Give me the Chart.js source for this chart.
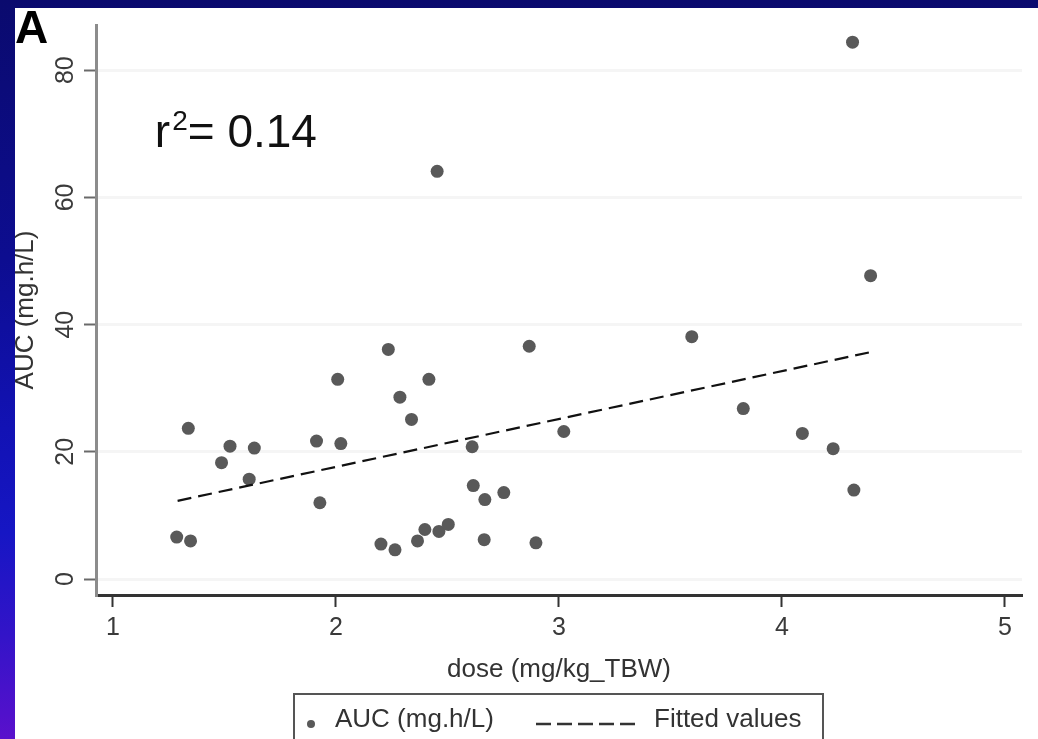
<!DOCTYPE html>
<html>
<head>
<meta charset="utf-8">
<title>AUC vs dose</title>
<script src="https://cdn.jsdelivr.net/npm/chart.js@4.4.1/dist/chart.umd.min.js"></script>
<style>
  html, body {
    margin: 0;
    padding: 0;
    width: 1038px;
    height: 739px;
    overflow: hidden;
    background: linear-gradient(to bottom, #0a0a6e 0%, #0d0d90 35%, #1212b4 58%, #1616c4 72%, #3314c8 86%, #5a10cc 100%);
  }
  canvas { display: block; }
</style>
</head>
<body>
<canvas id="doseChart" width="1038" height="739"></canvas>
<script>
  // Observed dose (mg/kg TBW) and AUC (mg.h/L) pairs
  const doseValues = [1.286, 1.348, 1.338, 1.487, 1.525, 1.611, 1.634, 1.913, 1.928, 2.008,
                      2.022, 2.202, 2.235, 2.265, 2.287, 2.339, 2.366, 2.399, 2.417, 2.454,
                      2.462, 2.504, 2.611, 2.616, 2.665, 2.668, 2.753, 2.867, 2.897, 3.022,
                      3.596, 3.827, 4.092, 4.230, 4.317, 4.323, 4.398];
  const aucValues = [6.6, 6.0, 23.7, 18.3, 20.9, 15.7, 20.6, 21.7, 12.0, 31.4,
                     21.3, 5.5, 36.1, 4.6, 28.6, 25.1, 6.0, 7.8, 31.4, 64.1,
                     7.5, 8.6, 20.8, 14.7, 6.2, 12.5, 13.6, 36.6, 5.7, 23.2,
                     38.1, 26.8, 22.9, 20.5, 84.4, 14.0, 47.7];

  // Linear fit end points
  const fitDose = [1.29, 4.40];
  const fitAuc = [12.3, 35.7];

  const xTickValues = [1, 2, 3, 4, 5];
  const yTickValues = [0, 20, 40, 60, 80];

  const rSquared = '0.14';
  const panelLabel = 'A';

  const FONT = "'Liberation Sans', Arial, Helvetica, sans-serif";
  const pointColor = '#595959';

  // White panel, r² note, legend box and the blue frame
  const panelPlugin = {
    id: 'panel',
    beforeDraw(chart) {
      const ctx = chart.ctx;
      ctx.save();
      ctx.fillStyle = '#ffffff';
      ctx.fillRect(0, 0, chart.width, chart.height);
      ctx.restore();
    },
    afterDraw(chart) {
      const ctx = chart.ctx;
      const xs = chart.scales.x;
      const ys = chart.scales.y;
      ctx.save();

      // panel letter
      ctx.fillStyle = '#000';
      ctx.font = 'bold 46px ' + FONT;
      ctx.textBaseline = 'alphabetic';
      ctx.textAlign = 'left';
      ctx.fillText(panelLabel, 15, 43);

      // r² = value
      const rx = xs.getPixelForValue(1.188);
      const ry = ys.getPixelForValue(67.9);
      ctx.fillStyle = '#111';
      ctx.font = '46px ' + FONT;
      ctx.fillText('r', rx, ry);
      let cx = rx + ctx.measureText('r').width + 2;
      ctx.font = '28px ' + FONT;
      ctx.fillText('2', cx, ry - 17);
      cx += ctx.measureText('2').width;
      ctx.font = '46px ' + FONT;
      ctx.fillText('= ' + rSquared, cx, ry);

      // legend
      const lx = 294, ly = 694, lw = 529, lh = 62;
      ctx.strokeStyle = '#555';
      ctx.lineWidth = 2;
      ctx.strokeRect(lx, ly, lw, lh);

      ctx.fillStyle = pointColor;
      ctx.beginPath();
      ctx.arc(311, 724, 4, 0, Math.PI * 2);
      ctx.fill();

      ctx.font = '26px ' + FONT;
      ctx.fillStyle = '#333';
      ctx.textBaseline = 'middle';
      ctx.fillText(chart.data.datasets[1].label, 335, 720);

      ctx.strokeStyle = '#333';
      ctx.lineWidth = 2.5;
      ctx.setLineDash([15, 6]);
      ctx.beginPath();
      ctx.moveTo(536, 724);
      ctx.lineTo(636, 724);
      ctx.stroke();
      ctx.setLineDash([]);

      ctx.fillText(chart.data.datasets[0].label, 654, 720);

      // blue frame over the top and left edges
      ctx.clearRect(0, 0, chart.width, 8);
      ctx.clearRect(0, 0, 15, chart.height);
      ctx.restore();
    }
  };

  const scatterPoints = doseValues.map((d, i) => ({ x: d, y: aucValues[i] }));
  const fitPoints = fitDose.map((d, i) => ({ x: d, y: fitAuc[i] }));

  new Chart(document.getElementById('doseChart'), {
    type: 'scatter',
    data: {
      datasets: [
        {
          label: 'Fitted values',
          data: fitPoints,
          showLine: true,
          borderColor: '#111',
          borderWidth: 2.2,
          borderDash: [14, 7],
          pointRadius: 0,
          fill: false
        },
        {
          label: 'AUC (mg.h/L)',
          data: scatterPoints,
          pointRadius: 6.5,
          pointBackgroundColor: pointColor,
          pointBorderWidth: 0,
          showLine: false
        }
      ]
    },
    options: {
      responsive: false,
      animation: false,
      events: [],
      layout: { padding: { left: 15, right: 16, top: 25, bottom: 0 } },
      plugins: {
        legend: { display: false },
        tooltip: { enabled: false }
      },
      scales: {
        x: {
          type: 'linear',
          min: 0.924,
          max: 5.077,
          afterBuildTicks: (scale) => {
            scale.ticks = xTickValues.map(v => ({ value: v }));
          },
          afterFit: (scale) => { scale.height = 144; },
          grid: {
            drawOnChartArea: false,
            tickLength: 12,
            tickColor: '#333',
            tickWidth: 2
          },
          border: { color: '#333', width: 3 },
          ticks: {
            color: '#3a3a3a',
            padding: 6,
            maxRotation: 0,
            font: { family: FONT, size: 25 }
          },
          title: {
            display: true,
            text: 'dose (mg/kg_TBW)',
            color: '#333',
            font: { family: FONT, size: 26 },
            padding: { top: 0, bottom: 54 }
          }
        },
        y: {
          type: 'linear',
          min: -2.5,
          max: 87.1,
          afterBuildTicks: (scale) => {
            scale.ticks = yTickValues.map(v => ({ value: v }));
          },
          afterFit: (scale) => { scale.width = 81; },
          grid: {
            color: '#f5f5f5',
            lineWidth: 3,
            tickLength: 12,
            tickColor: '#6a6a6a',
            tickWidth: 2
          },
          border: { color: '#8c8c8c', width: 3 },
          ticks: {
            color: '#3a3a3a',
            minRotation: 90,
            maxRotation: 90,
            crossAlign: 'center',
            padding: 4,
            font: { family: FONT, size: 25 }
          },
          title: {
            display: true,
            text: 'AUC (mg.h/L)',
            color: '#333',
            font: { family: FONT, size: 26, lineHeight: 1 },
            padding: { top: -2, bottom: 0 }
          }
        }
      }
    },
    plugins: [panelPlugin]
  });
</script>
</body>
</html>
